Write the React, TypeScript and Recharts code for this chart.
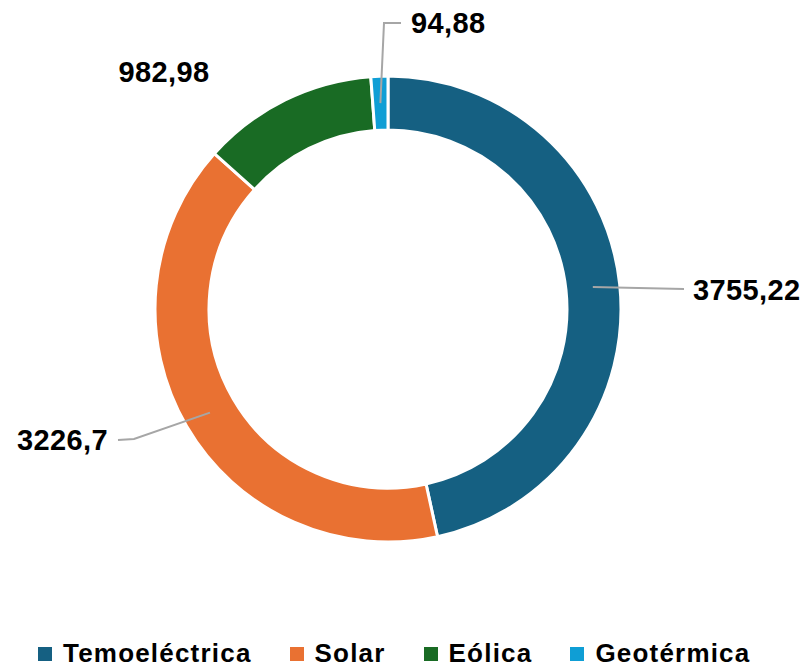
import React from 'react';
import { PieChart, Pie, Cell, Legend } from 'recharts';

const categories = ['Temoeléctrica', 'Solar', 'Eólica', 'Geotérmica'];
const values = [3755.22, 3226.7, 982.98, 94.88];
const valueLabels = ['3755,22', '3226,7', '982,98', '94,88'];
const colors = ['#156082', '#E97132', '#196B24', '#0F9ED5'];

const data = categories.map((name, i) => ({ name, value: values[i] }));

const FONT = '"Liberation Sans", Arial, sans-serif';
const LINE_COLOR = '#A6A6A6';

type Lay = { pts: [number, number][]; tx: number; ty: number; anchor: 'start' | 'end' | 'middle'; line: boolean };
const labelLayout: Lay[] = [
  { pts: [[296, -20]], tx: 305, ty: -19, anchor: 'start', line: true },
  { pts: [[-254, 130], [-270, 131]], tx: -280, ty: 131, anchor: 'end', line: true },
  { pts: [], tx: -224, ty: -237, anchor: 'middle', line: false },
  { pts: [[-4, -286], [13, -286]], tx: 23, ty: -286, anchor: 'start', line: true },
];

const RADIAN = Math.PI / 180;

const renderLabel = (props: any) => {
  const { cx, cy, midAngle, innerRadius, outerRadius, index } = props;
  const lay = labelLayout[index];
  const r = (innerRadius + outerRadius) / 2;
  const ax = cx + r * Math.cos(-midAngle * RADIAN);
  const ay = cy + r * Math.sin(-midAngle * RADIAN);
  const points = [[ax, ay], ...lay.pts.map(([dx, dy]) => [cx + dx, cy + dy])];
  return (
    <g key={`lbl-${index}`}>
      {lay.line && (
        <polyline
          points={points.map((p) => p.join(',')).join(' ')}
          fill="none"
          stroke={LINE_COLOR}
          strokeWidth={2}
        />
      )}
      <text
        x={cx + lay.tx}
        y={cy + lay.ty}
        textAnchor={lay.anchor}
        dominantBaseline="central"
        fontFamily={FONT}
        fontWeight="bold"
        fontSize={29}
        letterSpacing={0.4}
        fill="#000"
      >
        {valueLabels[index]}
      </text>
    </g>
  );
};

const renderLegend = () => (
  <div
    style={{
      display: 'flex',
      justifyContent: 'flex-start',
      alignItems: 'center',
      gap: 38,
      paddingLeft: 38,
      fontFamily: FONT,
      fontWeight: 'bold',
      fontSize: 26,
      letterSpacing: 1.2,
      color: '#000',
    }}
  >
    {categories.map((c, i) => (
      <div key={c} style={{ display: 'flex', alignItems: 'center', gap: 11 }}>
        <div style={{ width: 14, height: 14, background: colors[i] }} />
        <span>{c}</span>
      </div>
    ))}
  </div>
);

export default function App() {
  return (
    <div style={{ position: 'absolute', left: 0, top: 0, width: 810, height: 667, background: '#fff' }}>
      <PieChart width={810} height={667} margin={{ top: 0, right: 0, bottom: 0, left: 0 }}>
        <Pie
          data={data}
          dataKey="value"
          nameKey="name"
          cx={388}
          cy={309}
          innerRadius={179}
          outerRadius={233}
          startAngle={90}
          endAngle={-270}
          stroke="#fff"
          strokeWidth={3}
          label={renderLabel}
          labelLine={false}
          isAnimationActive={false}
        >
          {data.map((d, i) => (
            <Cell key={d.name} fill={colors[i]} />
          ))}
        </Pie>
        <Legend
          content={renderLegend}
          wrapperStyle={{ position: 'absolute', top: 638, left: 0, width: 810, height: 30 }}
        />
      </PieChart>
    </div>
  );
}
